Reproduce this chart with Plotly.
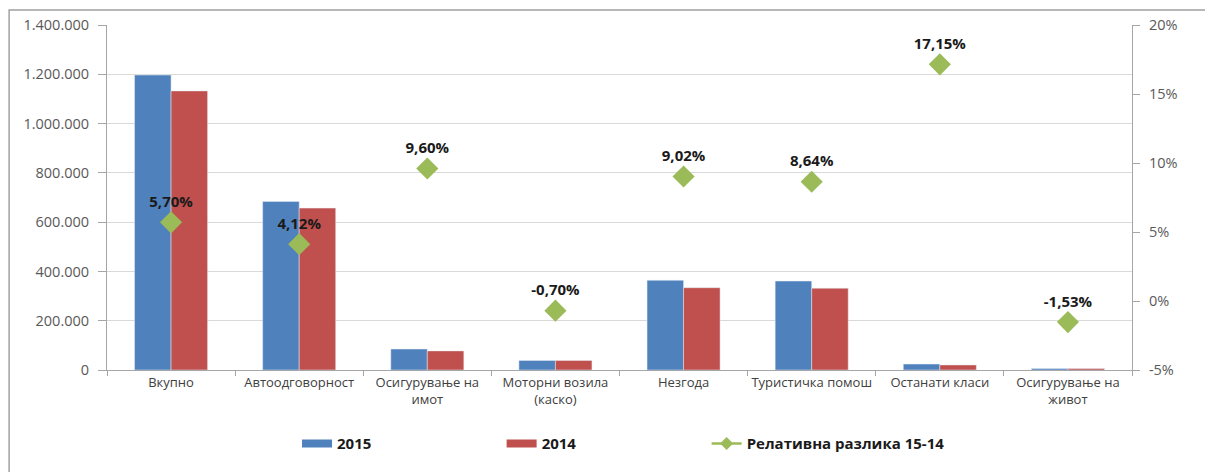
import plotly.graph_objects as go

categories = ["Вкупно", "Автоодговорност", "Осигурување на<br>имот", "Моторни возила<br>(каско)",
              "Незгода", "Туристичка помош", "Останати класи", "Осигурување на<br>живот"]
values_2015 = [1197000, 684000, 85000, 38500, 364000, 361000, 24000, 6000]
values_2014 = [1132500, 657000, 77600, 38800, 334000, 332000, 20500, 6100]
rel_diff = [5.70, 4.12, 9.60, -0.70, 9.02, 8.64, 17.15, -1.53]

left_ticks = [0, 200000, 400000, 600000, 800000, 1000000, 1200000, 1400000]
right_ticks = [-5, 0, 5, 10, 15, 20]
right_tick_labels = ["-5%", "0%", "5%", "10%", "15%", "20%"]

BLUE = "#4F81BD"
RED = "#C0504D"
GREEN = "#9BBB59"
FONT = "Open Sans"

fig = go.Figure()
fig.add_trace(go.Bar(x=categories, y=values_2015, name="2015", marker_color=BLUE, showlegend=False))
fig.add_trace(go.Bar(x=categories, y=values_2014, name="2014", marker_color=RED, showlegend=False))
fig.add_trace(go.Scatter(
    x=categories, y=rel_diff, yaxis="y2", mode="markers+text",
    marker=dict(symbol="diamond", size=17, color=GREEN),
    text=[("%.2f%%" % v).replace(".", ",") for v in rel_diff],
    textposition="top center",
    textfont=dict(family=FONT, size=15, color="#1a1a1a", weight="bold"),
    name="Релативна разлика 15-14", showlegend=False, cliponaxis=False))

# legend entries (one legend box each, placed like the original)
fig.add_trace(go.Scatter(x=[None], y=[None], mode="lines", line=dict(color=BLUE, width=8),
                         name="2015", legend="legend"))
fig.add_trace(go.Scatter(x=[None], y=[None], mode="lines", line=dict(color=RED, width=8),
                         name="2014", legend="legend2"))
fig.add_trace(go.Scatter(x=[None], y=[None], mode="lines+markers", yaxis="y2",
                         line=dict(color=GREEN, width=2.5),
                         marker=dict(symbol="diamond", size=10, color=GREEN),
                         name="Релативна разлика 15-14", legend="legend3"))

legend_font = dict(family=FONT, size=15, color="#1a1a1a", weight="bold")
def leg(x):
    return dict(orientation="h", x=x, xanchor="left", y=-0.214, yanchor="middle",
                font=legend_font, bgcolor="rgba(0,0,0,0)")

fig.update_layout(
    width=1205, height=464,
    margin=dict(l=99, r=81, t=17, b=102, autoexpand=False),
    paper_bgcolor="white", plot_bgcolor="white",
    separators=",.",
    barmode="group", bargap=0.43, bargroupgap=0,
    font=dict(family=FONT, color="#595959"),
    xaxis=dict(
        type="category", showgrid=False, showline=True, linecolor="#a6a6a6", linewidth=1,
        ticks="outside", tickson="boundaries", ticklen=5, tickcolor="#a6a6a6",
        tickangle=0,
        tickfont=dict(family=FONT, size=13, color="#404040"), automargin=False,
    ),
    yaxis=dict(
        range=[0, 1400000], tickvals=left_ticks, tickformat=",d",
        showgrid=True, gridcolor="#d9d9d9", gridwidth=1,
        showline=True, linecolor="#a6a6a6", linewidth=1,
        ticks="outside", ticklen=8, tickcolor="#a6a6a6", ticklabelstandoff=6,
        tickfont=dict(family=FONT, size=14.5, color="#595959"),
        zeroline=False, automargin=False,
    ),
    yaxis2=dict(
        range=[-5, 20], tickvals=right_ticks, ticktext=right_tick_labels,
        overlaying="y", side="right",
        showgrid=False, zeroline=False,
        showline=True, linecolor="#a6a6a6", linewidth=1,
        ticks="outside", ticklen=7, tickcolor="#a6a6a6", ticklabelstandoff=6,
        tickfont=dict(family=FONT, size=14.5, color="#595959"), automargin=False,
    ),
    legend=leg(0.1854),
    legend2=leg(0.385),
    legend3=leg(0.585),
    shapes=[dict(type="rect", xref="paper", yref="paper",
                 x0=-0.0955, x1=1.09, y0=-0.32, y1=1.0435,
                 line=dict(color="#a0a0a0", width=1.5), fillcolor="rgba(0,0,0,0)", layer="below")],
)

fig.write_html("out.html")
